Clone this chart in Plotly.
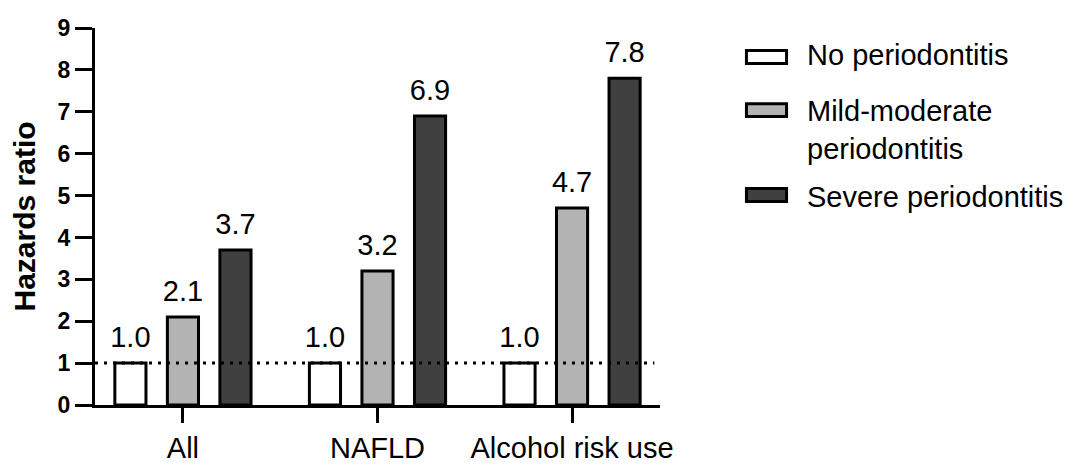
import plotly.graph_objects as go

categories = ["All", "NAFLD", "Alcohol risk use"]
series_names = ["No periodontitis", "Mild-moderate<br>periodontitis", "Severe periodontitis"]
no_perio = [1.0, 1.0, 1.0]
mild_mod = [2.1, 3.2, 4.7]
severe = [3.7, 6.9, 7.8]
y_ticks = [0, 1, 2, 3, 4, 5, 6, 7, 8, 9]
reference_hr = 1

colors = ["#ffffff", "#b3b3b3", "#404040"]
group_offsets = [-0.27, 0.0, 0.27]
BAR_W = 0.16
FONT = "Arial, Liberation Sans, Helvetica, sans-serif"

cat_idx = list(range(len(categories)))

fig = go.Figure()
for name, vals, col, off in zip(series_names, [no_perio, mild_mod, severe], colors, group_offsets):
    xs = [i + off for i in cat_idx]
    fig.add_trace(go.Bar(
        x=xs, y=vals, name=name, width=BAR_W,
        marker=dict(color=col, line=dict(color="black", width=3)),
        showlegend=False, hoverinfo="y",
    ))
    fig.add_trace(go.Scatter(
        x=xs, y=vals, mode="markers+text",
        marker=dict(size=13, opacity=0),
        text=[f"{v:.1f}" for v in vals], textposition="top center",
        textfont=dict(size=29, color="black", family=FONT),
        cliponaxis=False, showlegend=False, hoverinfo="skip",
    ))

fig.add_shape(type="line", xref="x domain", yref="y", x0=0, x1=0.99,
              y0=reference_hr, y1=reference_hr,
              line=dict(color="black", width=3, dash="3px,6px"))

# manual legend (paper coords relative to plot area)
rect_y = [0.923, 0.782, 0.557]
text_y = [0.928, 0.729, 0.552]
for ry, ty, name, col in zip(rect_y, text_y, series_names, colors):
    fig.add_shape(type="rect", xref="paper", yref="paper",
                  x0=1.153, x1=1.224, y0=ry - 0.017, y1=ry + 0.017,
                  fillcolor=col, line=dict(color="black", width=3))
    fig.add_annotation(xref="paper", yref="paper", x=1.257, y=ty, text=name,
                       showarrow=False, xanchor="left", yanchor="middle", align="left",
                       font=dict(size=29, color="black", family=FONT))

fig.update_layout(
    width=1078, height=466,
    margin=dict(l=95, r=418, t=28, b=61),
    paper_bgcolor="white", plot_bgcolor="white",
    barmode="overlay",
    font=dict(family=FONT, color="black"),
)
fig.update_xaxes(
    range=[-0.452, 2.452], tickvals=cat_idx, ticktext=categories,
    showline=True, linecolor="black", linewidth=3,
    ticks="outside", ticklen=15, tickwidth=3, tickcolor="black",
    ticklabelstandoff=0, automargin=False,
    tickfont=dict(size=29, family=FONT), showgrid=False, zeroline=False,
)
fig.update_yaxes(
    range=[0, 9], tickvals=y_ticks, showline=True, linecolor="black", linewidth=3,
    ticks="outside", ticklen=17, tickwidth=3, tickcolor="black",
    automargin=False,
    tickfont=dict(size=23, family=FONT, weight="bold"),
    title=dict(text="<b>Hazards ratio</b>", font=dict(size=30, family=FONT), standoff=14),
    showgrid=False, zeroline=False,
)
fig.write_html("out.html", config={"displayModeBar": False},
               post_script="document.body.style.margin='0';")
